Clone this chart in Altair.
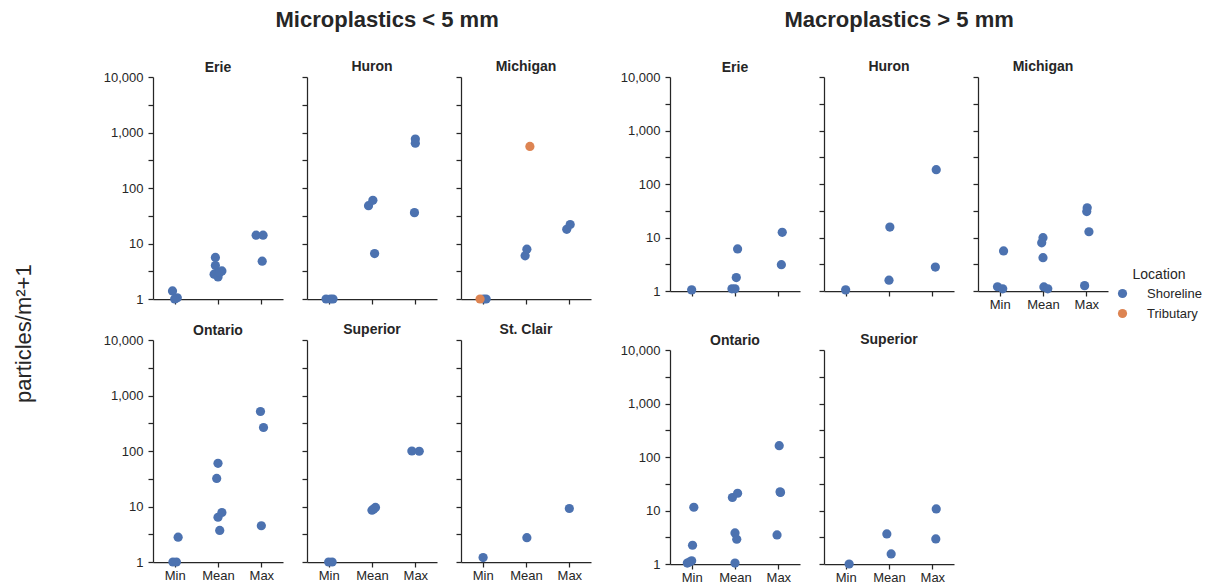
import altair as alt
import pandas as pd

STATS = ["Min", "Mean", "Max"]
LOCATIONS = ["Shoreline", "Tributary"]
PALETTE = ["#4c72b0", "#dd8452"]
Y_TICKS = [1, 3.1623, 10, 31.623, 100, 316.23, 1000, 3162.3, 10000]
Y_LABELED = [1, 10, 100, 1000, 10000]
S, T = "Shoreline", "Tributary"

# (stat, location, value, horizontal jitter in category units)
micro_erie = [("Min", S, 1.4, -0.05), ("Min", S, 1.05, 0.06), ("Min", S, 1.0, 0.0),
              ("Mean", S, 5.6, -0.06), ("Mean", S, 4.0, -0.06), ("Mean", S, 2.8, -0.09),
              ("Mean", S, 2.5, 0.0), ("Mean", S, 3.2, 0.09), ("Mean", S, 3.0, 0.04),
              ("Max", S, 14.1, -0.12), ("Max", S, 14.1, 0.04), ("Max", S, 4.8, 0.02)]
micro_huron = [("Min", S, 1.0, -0.06), ("Min", S, 1.0, 0.04), ("Min", S, 1.0, 0.1),
               ("Mean", S, 48, -0.08), ("Mean", S, 60, 0.02), ("Mean", S, 6.6, 0.06),
               ("Max", S, 760, 0.0), ("Max", S, 640, 0.0), ("Max", S, 36, -0.02)]
micro_michigan = [("Min", S, 1.0, 0.08), ("Min", S, 1.0, 0.02), ("Min", T, 1.0, -0.06),
                  ("Mean", S, 6.0, -0.02), ("Mean", S, 7.9, 0.02), ("Mean", T, 560, 0.09),
                  ("Max", S, 18, -0.06), ("Max", S, 22, 0.02)]
micro_ontario = [("Min", S, 1.0, -0.04), ("Min", S, 1.0, 0.04), ("Min", S, 2.8, 0.08),
                 ("Mean", S, 60, 0.0), ("Mean", S, 32, -0.03), ("Mean", S, 6.4, 0.0),
                 ("Mean", S, 7.8, 0.09), ("Mean", S, 3.7, 0.04),
                 ("Max", S, 515, -0.02), ("Max", S, 265, 0.05), ("Max", S, 4.5, 0.0)]
micro_superior = [("Min", S, 1.0, 0.0), ("Min", S, 1.0, 0.08),
                  ("Mean", S, 8.6, 0.0), ("Mean", S, 9.6, 0.08), ("Mean", S, 9.0, 0.04),
                  ("Max", S, 100, -0.08), ("Max", S, 99, 0.09)]
micro_stclair = [("Min", S, 1.2, 0.01), ("Mean", S, 2.74, 0.02), ("Max", S, 9.2, 0.0)]

macro_erie = [("Min", S, 1.05, 0.0),
              ("Mean", S, 6.1, 0.06), ("Mean", S, 1.78, 0.03), ("Mean", S, 1.1, -0.07), ("Mean", S, 1.1, 0.0),
              ("Max", S, 12.5, 0.09), ("Max", S, 3.1, 0.07)]
macro_huron = [("Min", S, 1.05, 0.0),
               ("Mean", S, 15.7, 0.02), ("Mean", S, 1.59, 0.0),
               ("Max", S, 185, 0.09), ("Max", S, 2.8, 0.07)]
macro_michigan = [("Min", S, 5.6, 0.09), ("Min", S, 1.2, -0.05), ("Min", S, 1.1, 0.07),
                  ("Mean", S, 9.9, 0.0), ("Mean", S, 7.95, -0.03), ("Mean", S, 4.2, 0.0),
                  ("Mean", S, 1.19, 0.02), ("Mean", S, 1.1, 0.11),
                  ("Max", S, 36, 0.02), ("Max", S, 30.5, 0.01), ("Max", S, 12.8, 0.06), ("Max", S, 1.26, -0.04)]
macro_ontario = [("Min", S, 11.5, 0.05), ("Min", S, 2.24, 0.02), ("Min", S, 1.04, -0.1),
                 ("Min", S, 1.15, 0.0), ("Min", S, 1.09, -0.05),
                 ("Mean", S, 17.5, -0.06), ("Mean", S, 21, 0.06), ("Mean", S, 3.8, 0.0),
                 ("Mean", S, 2.9, 0.04), ("Mean", S, 1.04, 0.0),
                 ("Max", S, 163, 0.02), ("Max", S, 21.7, 0.05), ("Max", S, 22.3, 0.04), ("Max", S, 3.5, -0.03)]
macro_superior = [("Min", S, 1.0, 0.08),
                  ("Mean", S, 3.65, -0.05), ("Mean", S, 1.54, 0.05),
                  ("Max", S, 10.7, 0.09), ("Max", S, 2.94, 0.08)]

MICRO_TITLE = "Microplastics < 5 mm"
MACRO_TITLE = "Macroplastics > 5 mm"
Y_TITLE = "particles/m²+1"
micro_rows = [[("Erie", micro_erie), ("Huron", micro_huron), ("Michigan", micro_michigan)],
              [("Ontario", micro_ontario), ("Superior", micro_superior), ("St. Clair", micro_stclair)]]
macro_rows = [[("Erie", macro_erie), ("Huron", macro_huron), ("Michigan", macro_michigan)],
              [("Ontario", macro_ontario), ("Superior", macro_superior)]]

records = []
for grp, rows in ((MICRO_TITLE, micro_rows), (MACRO_TITLE, macro_rows)):
    for row in rows:
        for lake, pts in row:
            for stat, loc, val, jit in pts:
                records.append(dict(group=grp, lake=lake, stat=stat, location=loc,
                                    value=val, jitter=jit))
df = pd.DataFrame(records)

INK = "#262626"
FONT = "Liberation Sans"
stat_list = "[" + ",".join("'%s'" % s for s in STATS) + "]"
lab_list = "[" + ",".join(str(v) for v in Y_LABELED) + "]"


def panel(group, lake, height, y_labels, x_labels):
    return alt.Chart(df).transform_filter(
        (alt.datum.group == group) & (alt.datum.lake == lake)
    ).transform_calculate(
        pos="indexof(%s, datum.stat) + datum.jitter" % stat_list
    ).mark_circle(size=85, opacity=1).encode(
        x=alt.X("pos:Q", scale=alt.Scale(domain=[-0.5, 2.5], nice=False, zero=False),
                axis=alt.Axis(values=[0, 1, 2], labelExpr="%s[datum.value]" % stat_list,
                              labels=x_labels, title=None, grid=False)),
        y=alt.Y("value:Q", scale=alt.Scale(type="log", domain=[1, 10000], nice=False),
                axis=alt.Axis(values=Y_TICKS,
                              labelExpr="indexof(%s, datum.value) >= 0 ? format(datum.value, ',') : ''" % lab_list,
                              labels=y_labels, title=None, grid=False, labelOverlap=False)),
        color=alt.Color("location:N", scale=alt.Scale(domain=LOCATIONS, range=PALETTE),
                        legend=alt.Legend(title="Location", orient="none", legendX=963, legendY=191)),
    ).properties(width=130, height=height,
                 title=alt.TitleParams(lake, frame="group", fontSize=14, fontWeight="bold",
                                       offset=2, dy=6 if y_labels else 0))


def group_chart(title, rows, height, dx, row_gap):
    row_charts = []
    for ri, row in enumerate(rows):
        panels = []
        for ci, (lake, _) in enumerate(row):
            below = ri + 1 < len(rows) and ci < len(rows[ri + 1])
            panels.append(panel(title, lake, height, ci == 0, not below))
        row_charts.append(alt.hconcat(*panels, spacing=18))
    return alt.vconcat(*row_charts, spacing=row_gap,
                       title=alt.TitleParams(title, fontSize=22, fontWeight="bold", anchor="middle",
                                             dx=dx, offset=28))


left = group_chart(MICRO_TITLE, micro_rows, 222, 40, 17)
right = group_chart(MACRO_TITLE, macro_rows, 214, 35, 22)

chart = alt.hconcat(left, right, spacing=29).properties(
    title=alt.TitleParams(Y_TITLE, orient="left", anchor="middle", fontSize=22,
                          fontWeight="normal", offset=67, dx=-37),
    padding={"left": 13, "top": 9, "right": 0, "bottom": 0},
).configure_view(stroke=None).configure_axis(
    domainColor=INK, tickColor=INK, labelColor=INK, labelFont=FONT, labelFontSize=13,
    domainWidth=1.25, tickWidth=1.25, tickSize=5,
).configure_axisX(labelPadding=2).configure_axisY(labelPadding=5).configure_title(
    font=FONT, color=INK
).configure_legend(
    titleFont=FONT, titleFontSize=14, titleFontWeight="normal", titleColor=INK,
    labelFont=FONT, labelFontSize=13, labelColor=INK, symbolSize=85, symbolType="circle",
    symbolStrokeWidth=0, symbolOpacity=1, labelOffset=18, rowPadding=6, titleAnchor="middle",
)

chart.save("out.html", embed_options={"renderer": "svg", "actions": False})
